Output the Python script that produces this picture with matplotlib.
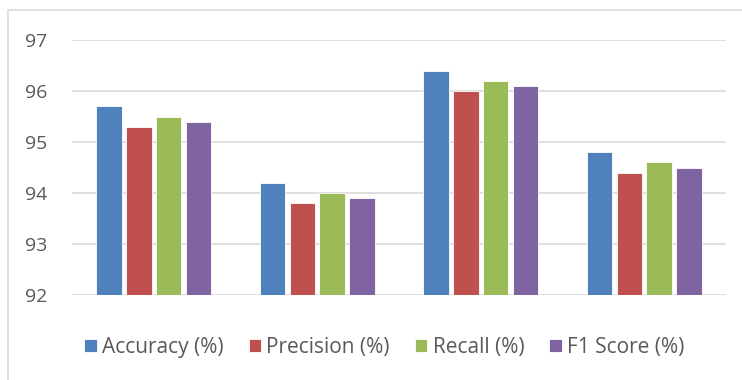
import matplotlib
matplotlib.use("Agg")
import matplotlib.pyplot as plt
import numpy as np
from matplotlib.patches import Rectangle

groups = ["G1", "G2", "G3", "G4"]
series = ["Accuracy (%)", "Precision (%)", "Recall (%)", "F1 Score (%)"]
accuracy = [95.7, 94.2, 96.4, 94.8]
precision = [95.3, 93.8, 96.0, 94.4]
recall = [95.5, 94.0, 96.2, 94.6]
f1 = [95.4, 93.9, 96.1, 94.5]
values = [accuracy, precision, recall, f1]
colors = ["#4F81BD", "#C0504D", "#9BBB59", "#8064A2"]
yticks = [92, 93, 94, 95, 96, 97]

plt.rcParams['font.family'] = ['Open Sans', 'DejaVu Sans']
fig = plt.figure(figsize=(7.42, 3.80), dpi=100)
ax = fig.add_axes([72/742, 1-295/380, (726-72)/742, (295-40)/380])

x = np.arange(len(groups))
w = 0.183
for i, (name, vals, c) in enumerate(zip(series, values, colors)):
    ax.bar(x + (i - 1.5) * w, [v - 92 for v in vals], bottom=92, width=w * 0.85,
           color=c, edgecolor='white', linewidth=0.6, label=name, zorder=3)

ax.set_ylim(92, 97)
ax.set_xlim(-0.5, 3.5)
ax.set_yticks(yticks)
ax.set_yticklabels([str(t) for t in yticks], fontsize=14, color='#595959')
ax.set_xticks([])
ax.grid(axis='y', color='#D9D9D9', linewidth=1.2, zorder=0)
for s in ax.spines.values():
    s.set_visible(False)
ax.tick_params(axis='y', length=0, pad=18)

fig.legend(loc='center', bbox_to_anchor=(0.518, 1-347/380), ncol=4, frameon=False,
           fontsize=15, handlelength=0.6, handleheight=0.6, handletextpad=0.25,
           columnspacing=1.2, labelcolor='#595959')

fig.patches.append(Rectangle((8/742, -0.02), 1.0, 1 - 10/380 + 0.02, transform=fig.transFigure,
                             fill=False, edgecolor='#D9D9D9', linewidth=1.2))
fig.savefig("out.png", dpi=100)
